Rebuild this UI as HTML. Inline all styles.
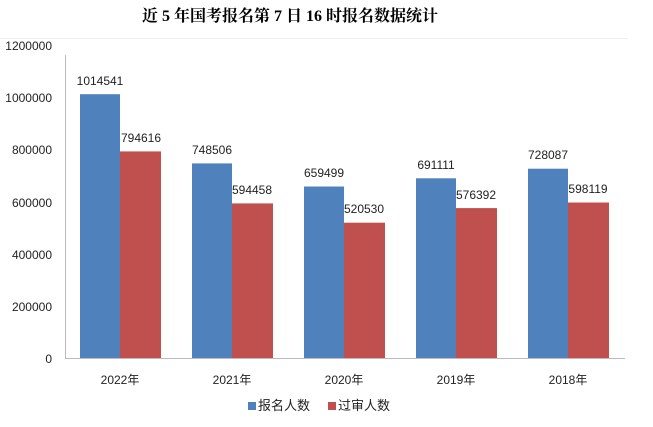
<!DOCTYPE html>
<html><head><meta charset="utf-8"><style>
body{margin:0;background:#fff;width:653px;height:422px;overflow:hidden}
svg text{font-family:"Liberation Sans","Noto Sans CJK SC",sans-serif;fill:#222}
</style></head><body>
<svg width="653" height="422" xmlns="http://www.w3.org/2000/svg">
<text x="290" y="21" text-anchor="middle" style="font-family:'Liberation Serif','Noto Serif CJK SC',serif;font-weight:bold;font-size:16px;fill:#000">近 5 年国考报名第 7 日 16 时报名数据统计</text>
<line x1="0" y1="38.5" x2="628" y2="38.5" stroke="#eee"/>
<line x1="65.5" y1="55" x2="65.5" y2="358" stroke="#bbb"/>
<line x1="65" y1="358.5" x2="625" y2="358.5" stroke="#bbb"/>
<g font-size="12" text-anchor="end">
<text x="52" y="50">1200000</text>
<text x="52" y="102">1000000</text>
<text x="52" y="154">800000</text>
<text x="52" y="207">600000</text>
<text x="52" y="259">400000</text>
<text x="52" y="311">200000</text>
<text x="52" y="363">0</text>
</g>
<g fill="#4f81bd">
<rect x="80" y="94.2" width="40" height="263.8"/>
<rect x="192" y="163.4" width="40" height="194.6"/>
<rect x="304" y="186.5" width="40" height="171.5"/>
<rect x="416" y="178.3" width="40" height="179.7"/>
<rect x="528" y="168.7" width="40" height="189.3"/>
</g>
<g fill="#c0504d">
<rect x="120" y="151.4" width="41" height="206.6"/>
<rect x="232" y="203.4" width="41" height="154.6"/>
<rect x="344" y="222.7" width="41" height="135.3"/>
<rect x="456" y="208.1" width="41" height="149.9"/>
<rect x="568" y="202.5" width="41" height="155.5"/>
</g>
<g font-size="12" text-anchor="middle">
<text x="100" y="85">1014541</text><text x="141" y="142">794616</text>
<text x="212" y="154">748506</text><text x="252" y="194">594458</text>
<text x="324" y="177">659499</text><text x="364" y="213">520530</text>
<text x="436" y="169">691111</text><text x="476" y="199">576392</text>
<text x="548" y="159">728087</text><text x="588" y="193">598119</text>
<text x="120" y="384">2022年</text><text x="232" y="384">2021年</text>
<text x="344" y="384">2020年</text><text x="456" y="384">2019年</text>
<text x="568" y="384">2018年</text>
</g>
<rect x="248" y="402" width="8" height="8" fill="#4f81bd"/>
<text x="258" y="410" font-size="13">报名人数</text>
<rect x="328" y="402" width="8" height="8" fill="#c0504d"/>
<text x="338" y="410" font-size="13">过审人数</text>
</svg>
</body></html>
